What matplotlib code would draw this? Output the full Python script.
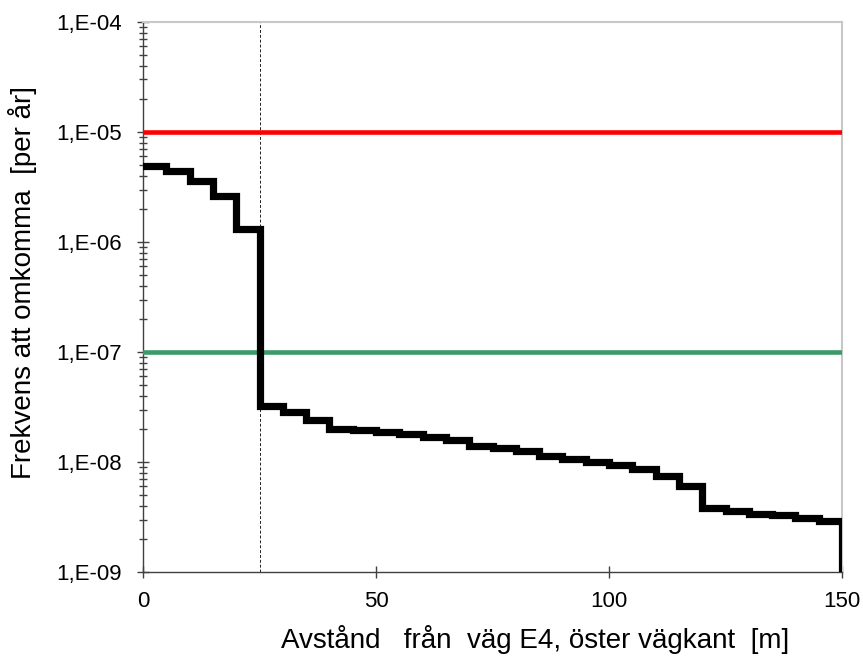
import matplotlib.pyplot as plt
from matplotlib.ticker import LogLocator, FuncFormatter, NullFormatter
import numpy as np

plt.rcParams['font.family'] = ['Liberation Sans', 'DejaVu Sans']

# step edges every 5 m, one value per interval
dist = list(range(0, 155, 5))
freq = [4.9e-6, 4.4e-6, 3.6e-6, 2.6e-6, 1.31e-6,
        3.2e-8, 2.85e-8, 2.4e-8, 2.0e-8, 1.95e-8,
        1.88e-8, 1.78e-8, 1.69e-8, 1.6e-8, 1.4e-8,
        1.33e-8, 1.26e-8, 1.13e-8, 1.07e-8, 1.01e-8,
        9.4e-9, 8.6e-9, 7.5e-9, 6.0e-9, 3.78e-9,
        3.6e-9, 3.4e-9, 3.3e-9, 3.1e-9, 2.9e-9]
floor = 1e-9
red_limit = 1e-5
green_limit = 1e-7
mark_x = 25

fig = plt.figure(figsize=(8.63, 6.6), dpi=100)
ax = fig.add_axes([0.1657, 0.1333, 0.81, 0.8334])

ax.plot(dist, freq + [floor], drawstyle='steps-post', color='black', lw=5.2,
        solid_joinstyle='miter', zorder=4)
ax.axhline(red_limit, color='#ff0000', lw=3.3, zorder=3)
ax.axhline(green_limit, color='#3a9a6a', lw=3.3, zorder=3)
ax.axvline(mark_x, color='#202020', lw=0.7, ls=(0, (3, 2)), zorder=2)

ax.set_yscale('log')
ax.set_xlim(0, 150)
ax.set_ylim(1e-9, 1e-4)
ax.set_xticks([0, 50, 100, 150])
ax.yaxis.set_major_locator(LogLocator(base=10, numticks=10))
ax.yaxis.set_minor_locator(LogLocator(base=10, subs=np.arange(2, 10), numticks=10))
ax.yaxis.set_minor_formatter(NullFormatter())
ax.yaxis.set_major_formatter(FuncFormatter(lambda v, p: '1,E-%02d' % round(-np.log10(v))))

for s in ['top', 'right']:
    ax.spines[s].set_color('#c8c8c8')
    ax.spines[s].set_linewidth(1.5)
for s in ['left', 'bottom']:
    ax.spines[s].set_color('#404040')
    ax.spines[s].set_linewidth(1.0)

ax.tick_params(axis='both', which='major', direction='inout', length=9, width=1,
               color='#404040', labelsize=16)
ax.tick_params(axis='y', which='major', pad=11)
ax.tick_params(axis='y', which='minor', direction='inout', length=6, width=1, color='#404040')
ax.tick_params(axis='x', which='major', pad=9)

ax.set_xlabel('Avstånd   från  väg E4, öster vägkant  [m]', fontsize=20, va='center')
ax.xaxis.set_label_coords(0.561, -0.122)
ax.set_ylabel('Frekvens att omkomma  [per år]', fontsize=20, va='center')
ax.yaxis.set_label_coords(-0.173, 0.527)

fig.savefig('out.png', dpi=100)
